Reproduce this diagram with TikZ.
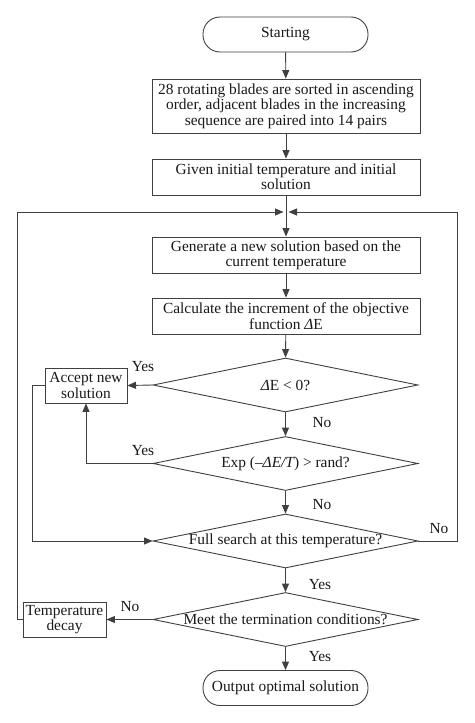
\documentclass[tikz,border=0pt]{standalone}
\usepackage{fontspec}
\setmainfont{Liberation Serif}
\usetikzlibrary{arrows.meta,shapes.geometric,calc}
\begin{document}
\begin{tikzpicture}[x=1pt,y=-1pt,
  every node/.style={font=\fontsize{15.4}{15.4}\selectfont, text=black!90},
  line/.style={draw=black!75, line width=0.9pt},
  arr/.style={line, -{Triangle[length=8.5pt,width=7pt]}},
  box/.style={draw=black!75, line width=0.9pt, rectangle, minimum width=268pt, align=center, inner sep=1pt},
  smallbox/.style={draw=black!75, line width=0.9pt, rectangle, align=center, inner sep=1pt},
  term/.style={draw=black!75, line width=0.9pt, rectangle, rounded corners=17pt, minimum width=165pt, minimum height=35pt, inner sep=1pt},
  dia/.style={draw=black!75, line width=0.9pt, diamond, minimum width=265pt, minimum height=54pt, inner sep=0pt},
  lbl/.style={inner sep=0pt}]
\useasboundingbox (0,0) rectangle (474,723);
\fill[white] (0,0) rectangle (474,723);

\node[term] (start) at (285.5,34.5) {Starting};
\node[box, minimum height=54pt] (b2) at (286,106) {28 rotating blades are sorted in ascending\\order, adjacent blades in the increasing\\sequence are paired into 14 pairs};
\node[box, minimum height=36pt] (b3) at (286,177) {Given initial temperature and initial\\solution};
\coordinate (j) at (286,212);
\node[box, minimum height=36pt] (b4) at (286,255) {Generate a new solution based on the\\current temperature};
\node[box, minimum height=36pt] (b5) at (286,316) {Calculate the increment of the objective\\function {\itshape Δ}E};
\node[dia] (d1) at (285.5,385) {};
\node[lbl] (t1) at (d1) {{\itshape Δ}E < 0?};
\node[smallbox, minimum width=82pt, minimum height=35pt] (acc) at (86,385.5) {Accept new\\solution};
\node[dia] (d2) at (285.5,463.5) {};
\node[lbl] (t2) at (d2) {Exp ({\itshape –ΔE/T}) > rand?};
\node[dia] (d3) at (285.5,541) {};
\node[lbl] (t3) at (d3) {Full search at this temperature?};
\node[dia] (d4) at (285.5,619.5) {};
\node[lbl] (t4) at (d4) {Meet the termination conditions?};
\node[smallbox, minimum width=83pt, minimum height=35pt] (td) at (64.5,619.5) {Temperature\\decay};
\node[term] (out) at (285.5,688) {Output optimal solution};

\coordinate (accl) at (32,385.5);
\coordinate (r) at (457,541);
\coordinate (l) at (17,619.5);

\draw[arr] (start) -- (b2);
\draw[arr] (b2) -- (b3);
\draw[arr] (b3) -- (b4);
\draw[arr] (b4) -- (b5);
\draw[arr] (b5) -- (d1.north);
\draw[arr] (d1.west) -- (acc.east);
\draw[arr] (d1.south) -- (d2.north);
\draw[arr] (d2.west) -| (acc.south);
\draw[arr] (d2.south) -- (d3.north);
\draw[arr] (acc.west) -- (accl) |- (d3.west);
\draw[arr, shorten >=2.5pt] (d3.east) -- (r) |- (j);
\draw[arr] (d3.south) -- (d4.north);
\draw[arr] (d4.west) -- (td.east);
\draw[arr, shorten >=2.5pt] (td.west) -- (l) |- (j);
\draw[arr] (d4.south) -- (out.north);

\node[lbl] (y1) at (143,367) {Yes};
\node[lbl] (n1) at (322,423) {No};
\node[lbl] (y2) at (143,451) {Yes};
\node[lbl] (n2) at (322,505) {No};
\node[lbl] (n3) at (439,529) {No};
\node[lbl] (y3) at (320,585) {Yes};
\node[lbl] (n4) at (130,607) {No};
\node[lbl] (y4) at (320,657) {Yes};
\end{tikzpicture}
\end{document}
